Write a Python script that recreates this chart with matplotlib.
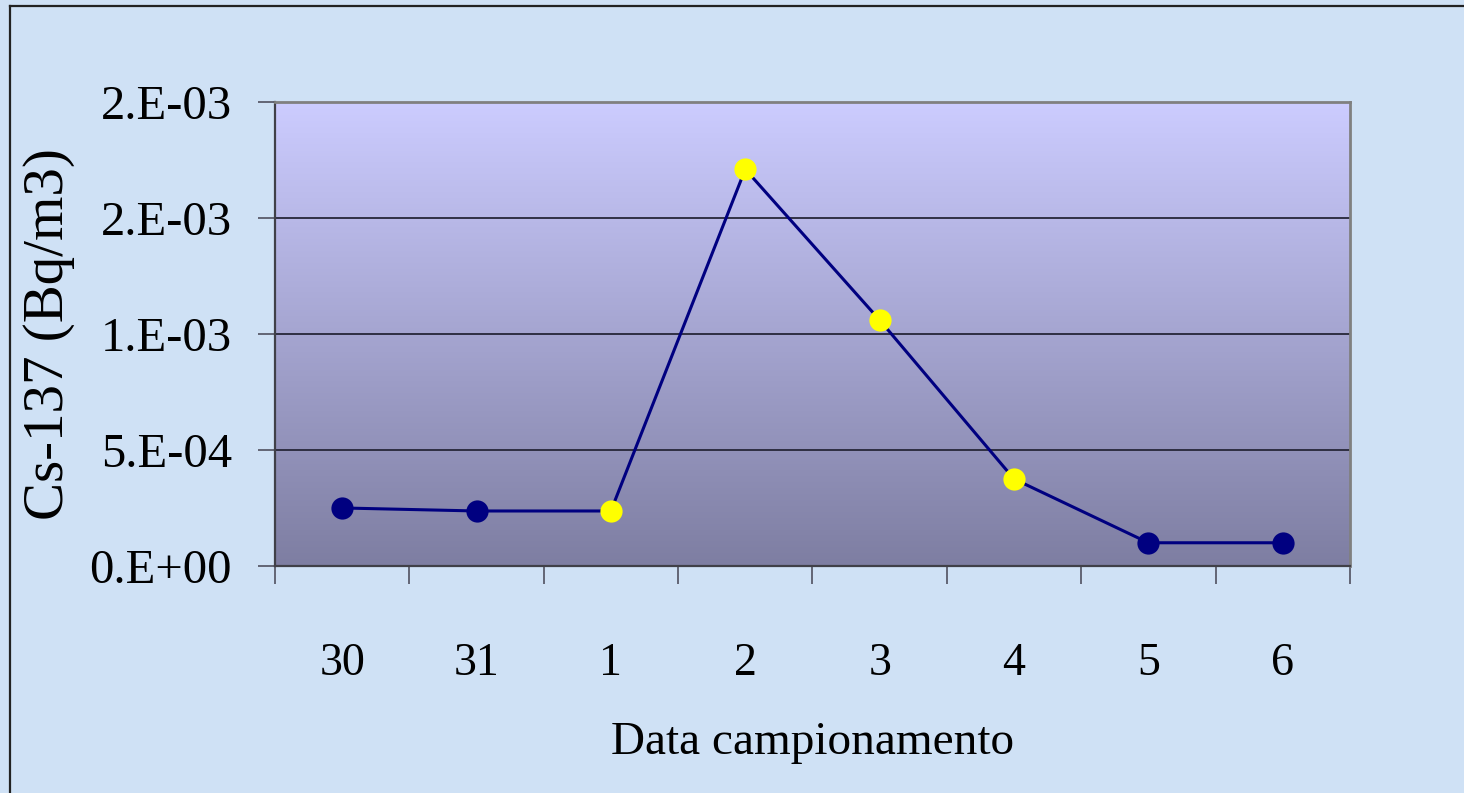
import numpy as np
import matplotlib
matplotlib.use('Agg')
import matplotlib.pyplot as plt
from matplotlib.colors import LinearSegmentedColormap
from matplotlib.lines import Line2D
from matplotlib.ticker import FixedLocator, FormatStrFormatter

# Sampling days and Cs-137 concentration (Bq/m3)
days = ['30', '31', '1', '2', '3', '4', '5', '6']
cs137 = [2.5e-4, 2.37e-4, 2.37e-4, 1.71e-3, 1.06e-3, 3.75e-4, 1.0e-4, 1.0e-4]
point_colors = ['#000080', '#000080', '#ffff00', '#ffff00', '#ffff00', '#ffff00', '#000080', '#000080']

plt.rcParams['font.family'] = ['Liberation Serif', 'DejaVu Serif']

fig = plt.figure(figsize=(14.64, 7.93), dpi=100)
fig.patch.set_facecolor('#cfe1f5')

ax = fig.add_axes([0.1878, 0.2863, 0.7343, 0.5851])
ax.set_xlim(-0.5, len(days) - 0.5)
ax.set_ylim(0, 2e-3)

# lavender-to-slate gradient for the plot area
grad = LinearSegmentedColormap.from_list('plotbg', ['#7e7ea2', '#ccccff'])
ax.imshow(np.linspace(0, 1, 256).reshape(-1, 1), cmap=grad, aspect='auto',
          extent=[-0.5, len(days) - 0.5, 0, 2e-3], origin='lower', zorder=0)

ax.yaxis.set_major_locator(FixedLocator([0, 5e-4, 1e-3, 1.5e-3, 2e-3]))
ax.yaxis.set_major_formatter(FormatStrFormatter('%#.0E'))
ax.grid(axis='y', color='#262638', linewidth=1.3, zorder=1)

x = np.arange(len(days))
ax.plot(x, cs137, color='#000080', linewidth=2.2, zorder=3)
for xi, yi, c in zip(x, cs137, point_colors):
    ax.plot(xi, yi, 'o', color=c, markersize=16, markeredgewidth=0, zorder=4)

ax.set_xticks(x)
ax.set_xticklabels(days)
ax.set_xticks(np.arange(-0.5, len(days)), minor=True)
ax.tick_params(axis='x', which='major', length=0, pad=55, labelsize=33)
ax.tick_params(axis='x', which='minor', length=13, width=1.2, color='#505060', direction='out')
ax.tick_params(axis='y', length=12, width=1.2, color='#505060', direction='out', pad=19, labelsize=35)

for side in ['top', 'right']:
    ax.spines[side].set_color('#808080')
    ax.spines[side].set_linewidth(2)
for side in ['left', 'bottom']:
    ax.spines[side].set_color('#404048')
    ax.spines[side].set_linewidth(1.6)

ax.set_xlabel('Data campionamento', fontsize=34)
ax.xaxis.set_label_coords(0.5, -0.335)
ax.set_ylabel('Cs-137 (Bq/m3)', fontsize=41)
ax.yaxis.set_label_coords(-0.186, 0.5)

# thin frame along the top and left edges
fig.add_artist(Line2D([0.0068, 0.0068], [0, 0.9924], transform=fig.transFigure, color='#222222', linewidth=1.6))
fig.add_artist(Line2D([0.0068, 1], [0.9924, 0.9924], transform=fig.transFigure, color='#222222', linewidth=1.6))

fig.savefig('out.png', dpi=100, facecolor=fig.get_facecolor())
